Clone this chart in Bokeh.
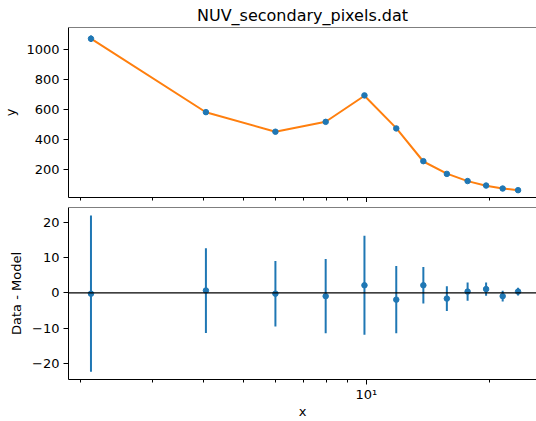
from bokeh.plotting import figure
from bokeh.models import Range1d, FixedTicker, Span, ColumnDataSource
from bokeh.layouts import column
from bokeh.embed import file_html
from bokeh.resources import INLINE

# ---- data ----
x = [2.12, 4.05, 5.99, 7.95, 9.89, 11.83, 13.78, 15.73, 17.68, 19.62, 21.54, 23.49]
y_data = [1075, 584, 453, 519, 696, 475, 256, 171, 123, 93, 73, 62]
y_model = [1075.2, 583.3, 453.2, 519.9, 693.8, 476.9, 253.8, 172.6, 122.6, 91.9, 73.9, 61.6]
resid = [-0.2, 0.7, -0.2, -0.9, 2.2, -1.9, 2.2, -1.6, 0.4, 1.1, -0.9, 0.4]
y_err = [22.3, 12.1, 9.35, 10.6, 14.1, 9.6, 5.2, 3.55, 2.6, 1.9, 1.5, 1.1]

x_major_ticks = [10]
x_minor_ticks = [2, 3, 4, 5, 6, 7, 8, 9, 20]
x_tick_labels = {10: "10\u00b9"}
y1_ticks = [200, 400, 600, 800, 1000]
y2_ticks = [-20, -10, 0, 10, 20]
y2_tick_labels = ["\u221220", "\u221210", "0", "10", "20"]

title_text = "NUV_secondary_pixels.dat"
FONT = "DejaVu Sans"
BLUE = "#1f77b4"
ORANGE = "#ff7f0e"

src = ColumnDataSource(dict(
    x=x, y=y_data, m=y_model, r=resid,
    lo1=[d - e for d, e in zip(y_data, y_err)],
    hi1=[d + e for d, e in zip(y_data, y_err)],
    lo2=[d - e for d, e in zip(resid, y_err)],
    hi2=[d + e for d, e in zip(resid, y_err)],
))

xr = Range1d(1.868, 26.06)
y1r = Range1d(13, 1150)
y2r = Range1d(-24.7, 24.4)


def style_axis(ax):
    ax.axis_line_color = "black"
    ax.major_tick_line_color = "black"
    ax.minor_tick_line_color = "black"
    ax.major_label_text_color = "black"
    ax.major_label_text_font = FONT
    ax.major_label_text_font_size = "13px"
    ax.axis_label_text_font = FONT
    ax.axis_label_text_font_size = "13px"
    ax.axis_label_text_font_style = "normal"
    ax.axis_label_text_color = "black"
    ax.major_tick_out = 5
    ax.major_tick_in = 0
    ax.minor_tick_out = 3
    ax.minor_tick_in = 0


# ---- top panel ----
p1 = figure(width=536, height=202, x_axis_type="log", x_range=xr, y_range=y1r,
            output_backend="svg", toolbar_location=None,
            min_border_left=67, min_border_right=0, min_border_top=27, min_border_bottom=5)
p1.outline_line_color = None
p1.grid.visible = False
p1.title.text = title_text
p1.title.text_font = FONT
p1.title.text_font_size = "16px"
p1.title.text_font_style = "normal"
p1.title.text_color = "black"
p1.title.align = "center"
p1.title.standoff = 5
p1.add_layout(Span(location=y1r.end, dimension="width", line_color="black", line_width=1))

style_axis(p1.xaxis[0])
p1.xaxis.ticker = FixedTicker(ticks=x_major_ticks, minor_ticks=x_minor_ticks)
p1.xaxis.major_label_overrides = {10: " "}
p1.xaxis.major_label_text_font_size = "1px"
p1.xaxis.major_label_text_alpha = 0
p1.xaxis.major_label_standoff = 0
style_axis(p1.yaxis[0])
p1.yaxis.ticker = FixedTicker(ticks=y1_ticks)
p1.yaxis.axis_label = "y"
p1.yaxis.major_label_standoff = 4

p1.segment(x0="x", y0="lo1", x1="x", y1="hi1", source=src, line_color=BLUE, line_width=2)
p1.line("x", "m", source=src, line_color=ORANGE, line_width=2)
p1.scatter("x", "y", source=src, size=5.5, color=BLUE)

# ---- bottom panel ----
p2 = figure(width=536, height=219, x_axis_type="log", x_range=xr, y_range=y2r,
            output_backend="svg", toolbar_location=None,
            min_border_left=67, min_border_right=0, min_border_top=5, min_border_bottom=40)
p2.outline_line_color = None
p2.grid.visible = False
p2.add_layout(Span(location=y2r.end, dimension="width", line_color="black", line_width=1))

style_axis(p2.xaxis[0])
p2.xaxis.ticker = FixedTicker(ticks=x_major_ticks, minor_ticks=x_minor_ticks)
p2.xaxis.major_label_overrides = x_tick_labels
p2.xaxis.axis_label = "x"
p2.xaxis.major_label_standoff = 2
p2.xaxis.axis_label_standoff = -1
style_axis(p2.yaxis[0])
p2.yaxis.ticker = FixedTicker(ticks=y2_ticks)
p2.yaxis.major_label_overrides = dict(zip(y2_ticks, y2_tick_labels))
p2.yaxis.axis_label = "Data - Model"
p2.yaxis.major_label_standoff = 4

p2.add_layout(Span(location=0, dimension="width", line_color="black", line_width=1.2))
p2.segment(x0="x", y0="lo2", x1="x", y1="hi2", source=src, line_color=BLUE, line_width=2)
p2.scatter("x", "r", source=src, size=5.5, color=BLUE)

layout = column(p1, p2, spacing=0)
open("out.html", "w").write(file_html(layout, INLINE))
